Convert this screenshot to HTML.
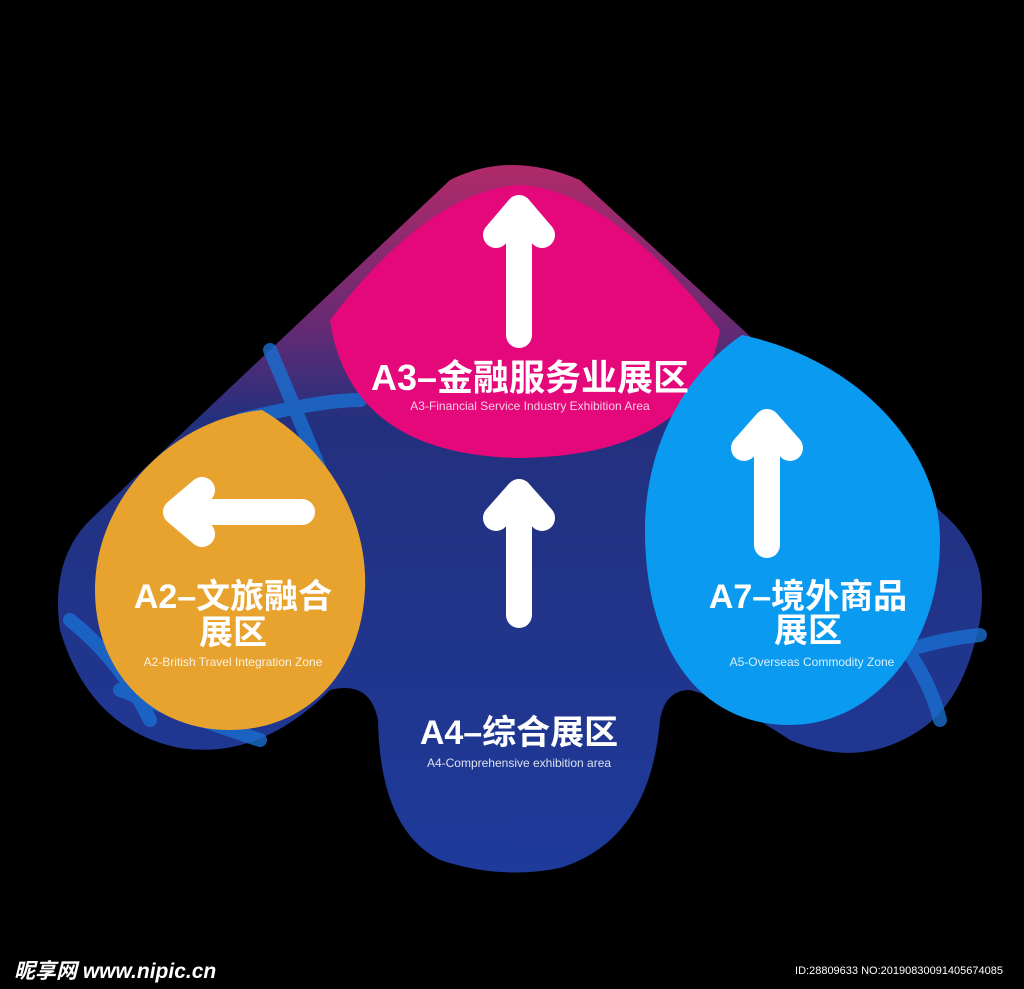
<!DOCTYPE html>
<html><head><meta charset="utf-8"><style>
html,body{margin:0;padding:0;background:#000;width:1024px;height:989px;overflow:hidden}
svg{display:block}
text{font-family:"Liberation Sans","Noto Sans CJK SC",sans-serif;fill:#fff}
</style></head><body>
<svg width="1024" height="989" viewBox="0 0 1024 989">
<defs>
<linearGradient id="bg" x1="0" y1="0" x2="0" y2="1">
<stop offset="0" stop-color="#b02a6a"/><stop offset="0.22" stop-color="#6a2a72"/><stop offset="0.36" stop-color="#23307e"/><stop offset="1" stop-color="#1e3a9a"/>
</linearGradient>
</defs>
<rect width="1024" height="989" fill="#000"/>
<path d="M450,180 Q510,150 580,180 L950,520 Q990,560 980,620 Q965,700 920,730 Q860,770 790,740 Q730,700 690,690 Q665,690 660,720 Q650,840 560,868 Q500,880 440,860 Q380,830 378,720 Q370,680 330,690 Q260,760 180,748 Q90,730 60,630 Q50,560 90,520 Z" fill="url(#bg)"/>
<g stroke="#1a6fd0" stroke-width="14" fill="none" stroke-linecap="round" opacity="0.8">
<path d="M270,350 Q300,420 320,470"/><path d="M240,420 Q320,400 360,400"/>
<path d="M70,620 Q120,660 150,720"/><path d="M120,690 Q200,720 260,740"/>
<path d="M900,640 Q930,680 940,720"/><path d="M880,660 Q930,640 980,635"/>
</g>
<path d="M330,320 Q430,190 520,185 Q610,190 720,330 Q700,455 520,458 Q350,455 330,320 Z" fill="#e5087a"/>
<path d="M262,410 C330,450 368,520 365,590 C360,680 300,730 230,730 C150,730 95,670 95,590 C95,500 170,420 262,410 Z" fill="#e8a32e"/>
<path d="M742,335 C860,360 940,450 940,540 C940,650 870,725 790,725 C700,725 645,650 645,530 C645,440 690,370 742,335 Z" fill="#0a9af0"/>
<g stroke="#fff" stroke-width="26" fill="none" stroke-linecap="round" stroke-linejoin="round">
<path d="M519,335 V210 M496,235 L519,208 L542,235"/>
<path d="M519,615 V495 M496,518 L519,492 L542,518"/>
<path d="M767,545 V425 M744,448 L767,422 L790,448"/>
<path d="M302,512 H178 M202,490 L176,512 L202,534"/>
</g>
<g font-weight="bold">
<text x="530" y="390" font-size="36" text-anchor="middle">A3–金融服务业展区</text>
<text x="233" y="608" font-size="34" text-anchor="middle">A2–文旅融合</text>
<text x="233" y="644" font-size="34" text-anchor="middle">展区</text>
<text x="808" y="608" font-size="34" text-anchor="middle">A7–境外商品</text>
<text x="808" y="642" font-size="34" text-anchor="middle">展区</text>
<text x="519" y="744" font-size="34" text-anchor="middle">A4–综合展区</text>
</g>
<text x="530" y="410" font-size="12" text-anchor="middle" opacity="0.8">A3-Financial Service Industry Exhibition Area</text>
<text x="233" y="666" font-size="12" text-anchor="middle" opacity="0.85">A2-British Travel Integration Zone</text>
<text x="812" y="666" font-size="12" text-anchor="middle" opacity="0.85">A5-Overseas Commodity Zone</text>
<text x="519" y="767" font-size="12" text-anchor="middle" opacity="0.85">A4-Comprehensive exhibition area</text>
<text x="14" y="978" font-size="21" font-weight="bold" font-style="italic">昵享网 www.nipic.cn</text>
<text x="1003" y="974" font-size="11" text-anchor="end">ID:28809633 NO:20190830091405674085</text>
</svg>
</body></html>
